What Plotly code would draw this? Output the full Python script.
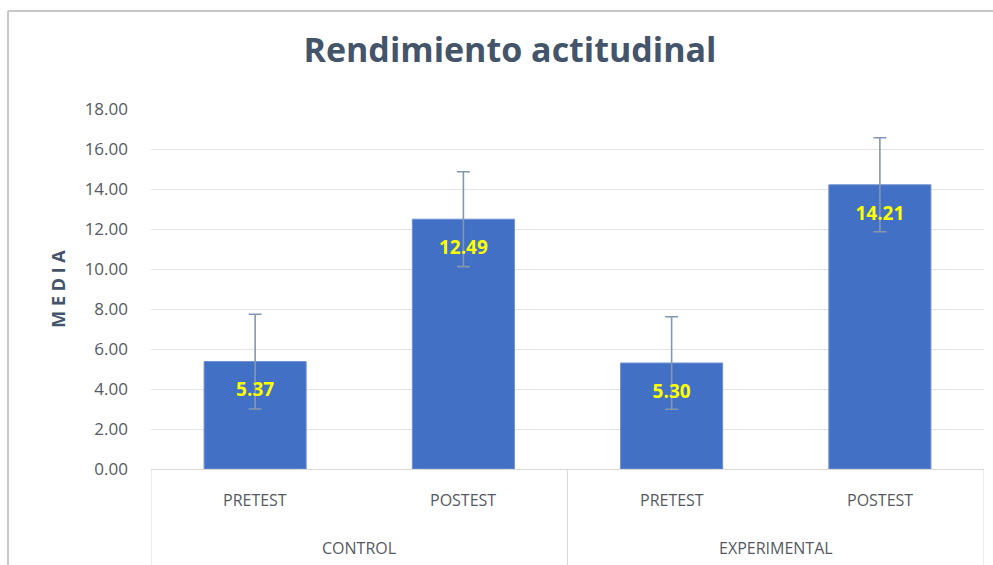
import plotly.graph_objects as go

groups = ["CONTROL", "CONTROL", "EXPERIMENTAL", "EXPERIMENTAL"]
phases = ["PRETEST", "POSTEST", "PRETEST", "POSTEST"]
means = [5.37, 12.49, 5.30, 14.21]
errors = [2.37, 2.37, 2.31, 2.35]
labels = ["5.37", "12.49", "5.30", "14.21"]
y_ticks = [0, 2, 4, 6, 8, 10, 12, 14, 16, 18]

font_family = "'Open Sans', Lato, sans-serif"
label_color = "#555a62"
line_color = "#d9d9d9"

n = len(phases)
fig = go.Figure()
fig.add_trace(go.Bar(
    x=list(range(n)),
    y=means,
    width=0.49,
    marker=dict(color="#4170c4", line=dict(color="#6f8fd3", width=1)),
    error_y=dict(type="data", array=errors, visible=True,
                 color="#8497b0", thickness=1.6, width=6.5),
    hoverinfo="skip",
    showlegend=False,
))
fig.add_trace(go.Scatter(
    x=list(range(n)),
    y=[m - 1.5 for m in means],
    mode="text",
    text=labels,
    textfont=dict(family=font_family, size=19, color="#ffff00", weight="bold"),
    hoverinfo="skip",
    showlegend=False,
))

annotations = []
# first level category labels (phases)
for i, p in enumerate(phases):
    annotations.append(dict(x=i, xref="x", y=-31 / 360, yref="paper", text=p,
                            showarrow=False, xanchor="center", yanchor="middle",
                            font=dict(family=font_family, size=16, color=label_color)))
# second level labels (groups), centred on their members
unique_groups = []
for g in groups:
    if g not in unique_groups:
        unique_groups.append(g)
shapes = []
for g in unique_groups:
    idx = [i for i, gg in enumerate(groups) if gg == g]
    annotations.append(dict(x=sum(idx) / len(idx), xref="x", y=-79 / 360, yref="paper",
                            text=g, showarrow=False, xanchor="center", yanchor="middle",
                            font=dict(family=font_family, size=16, color=label_color)))
    for b in (min(idx) - 0.5, max(idx) + 0.5):
        shapes.append(dict(type="line", xref="x", yref="paper", x0=b, x1=b,
                           y0=0, y1=-0.3, line=dict(color=line_color, width=1)))

# outer chart border (top and left visible)
shapes.append(dict(type="line", xref="paper", yref="paper", x0=-143 / 833, x1=1.02,
                   y0=1 + 98 / 360, y1=1 + 98 / 360, line=dict(color="#c8c8c8", width=2)))
shapes.append(dict(type="line", xref="paper", yref="paper", x0=-143 / 833, x1=-143 / 833,
                   y0=1 + 98 / 360, y1=-0.3, line=dict(color="#c8c8c8", width=2)))

fig.update_layout(
    width=993, height=565,
    margin=dict(l=151, r=9, t=109, b=96, autoexpand=False),
    paper_bgcolor="white",
    plot_bgcolor="white",
    title=dict(text="<b>Rendimiento actitudinal</b>", x=510 / 993, xanchor="center",
               y=1 - 50 / 565, yanchor="middle",
               font=dict(family=font_family, size=34, color="#44546a")),
    xaxis=dict(
        range=[-0.5, n - 0.5],
        showgrid=False, zeroline=False,
        showline=True, linecolor=line_color, linewidth=1,
        showticklabels=False, ticks="",
    ),
    yaxis=dict(
        range=[0, 18],
        tickvals=y_ticks,
        tickformat=".2f",
        showgrid=True, gridcolor="#e4e4e4", gridwidth=1,
        zeroline=False,
        showline=False,
        tickfont=dict(family=font_family, size=17, color=label_color),
        ticklabelstandoff=22,
        title=dict(text="<b>M E D I A</b>", standoff=14,
                   font=dict(family=font_family, size=18, color="#44546a")),
    ),
    annotations=annotations,
    shapes=shapes,
)

fig.write_html("out.html", config={"displayModeBar": False},
               post_script="document.body.style.margin='0';")
